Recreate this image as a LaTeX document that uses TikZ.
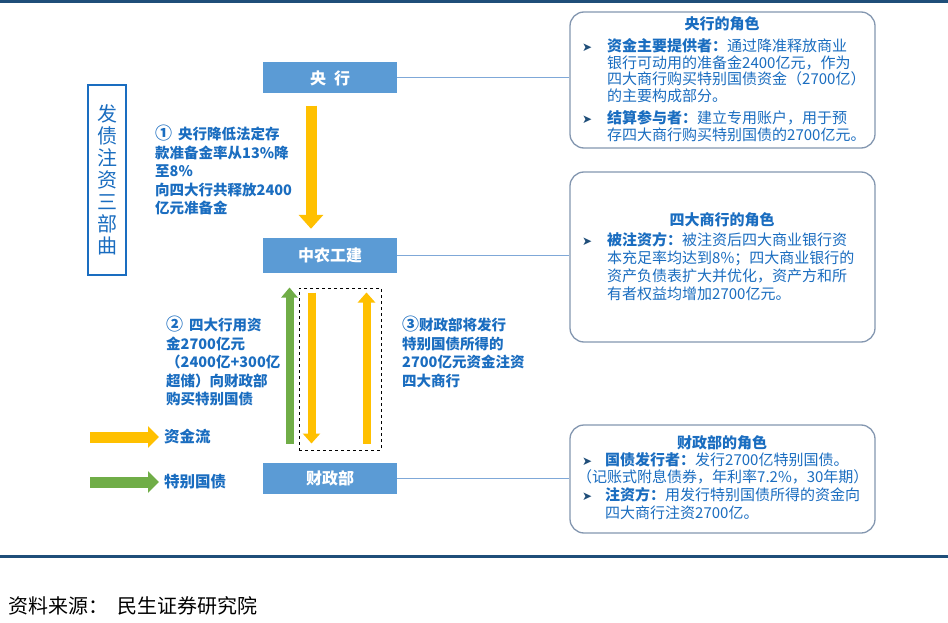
\documentclass[tikz,border=0pt]{standalone}
\usepackage{fontspec}
\setmainfont{Noto Sans CJK SC}
\newfontfamily\symfont{DejaVu Sans}
\usepackage{tikz}
\usetikzlibrary{positioning,arrows.meta,calc}
\definecolor{ruleblue}{HTML}{1F4E79}
\definecolor{boxblue}{HTML}{5B9BD5}
\definecolor{txtblue}{HTML}{1A6DC0}
\definecolor{rolegray}{HTML}{8497B0}
\definecolor{linkblue}{HTML}{7FA8D8}
\definecolor{gold}{HTML}{FFC000}
\definecolor{leaf}{HTML}{70AD47}
\newcommand{\bul}[1][25pt]{\makebox[#1][l]{\symfont\fontsize{12}{12}\selectfont\color{ruleblue}➤}}
\newcommand{\ind}[1][25pt]{\hspace*{#1}}

\begin{document}
\begin{tikzpicture}[
    x=1pt, y=-1pt,
    bank/.style={fill=boxblue, minimum width=134pt, minimum height=31pt, inner sep=0pt, text=white, font=\fontsize{16}{16}\selectfont\bfseries},
    role/.style={draw=rolegray, line width=1.3pt, rounded corners=14pt, minimum width=305pt, inner sep=0pt},
    note/.style={text=txtblue, align=left, inner sep=0pt, anchor=north west, font=\fontsize{14.5}{18.5}\selectfont\bfseries},
    body/.style={text=txtblue, align=left, inner sep=0pt, anchor=north west, font=\fontsize{15}{16.8}\selectfont},
    heading/.style={text=txtblue, inner sep=0pt, font=\fontsize{15}{15}\selectfont\bfseries},
    link/.style={draw=linkblue, line width=1pt},
    flow/.style={draw=gold, line width=8pt, -{Triangle[width=17pt,length=10pt]}},
    bond/.style={draw=leaf, line width=8pt, -{Triangle[width=16pt,length=10pt]}}
  ]
    \fill[white] (0,0) rectangle (948,623);
    \useasboundingbox (0,0) rectangle (948,623);
    \draw[ruleblue, line width=3pt] (0,2) -- (948,2);
    \draw[ruleblue, line width=3pt] (0,556) -- (948,556);

    \node[draw=txtblue, line width=1.3pt, minimum width=38pt, minimum height=190pt, align=center, text=txtblue, font=\fontsize{20}{22}\selectfont] (stage) at (107,180) {发\\债\\注\\资\\三\\部\\曲};

    \node[bank] (pboc) at (330,78) {央\hspace{8pt}行};
    \node[bank, minimum height=35pt] (big4) at (330,255.5) {中农工建};
    \node[bank] (mof) at (330,478) {财政部};

    \node[role, minimum height=136pt] (rolea) at (722.5,80) {};
    \node[role, minimum height=170pt] (roleb) at (722.5,257) {};
    \node[role, minimum height=108pt] (rolec) at (722.5,479) {};

    \draw[link] (pboc.east) -- (pboc.east -| rolea.west);
    \draw[link] (big4.east) -- (big4.east -| roleb.west);
    \draw[link] (mof.east) -- (mof.east -| rolec.west);

    \draw[flow, line width=11pt, -{Triangle[width=24pt,length=14pt]}] ($(pboc.south)+(-19,12)$) -- ($(big4.north)+(-19,-9)$);

    \node[draw, dashed, line width=1pt, minimum width=82pt, minimum height=162pt] (swap) at (340,369) {};
    \draw[bond] ($(swap.south west)+(-9,-7)$) -- ($(swap.north west)+(-9,0)$);
    \draw[flow] ($(swap.north west)+(13,5)$) -- ($(swap.south west)+(13,-7)$);
    \draw[flow] ($(swap.south east)+(-15,-7)$) -- ($(swap.north east)+(-15,5)$);

    \node[note] (stepone) at (155,125) {{\fontsize{17}{17}\selectfont①}\hspace{6pt}央行降低法定存\\款准备金率从13\%降\\至8\%\\向四大行共释放2400\\亿元准备金};
    \node[note] (steptwo) at (166,316) {{\fontsize{17}{17}\selectfont②}\hspace{6pt}四大行用资\\金2700亿元\\（2400亿+300亿\\超储）向财政部\\购买特别国债};
    \node[note] (stepthree) at (402,316) {{\fontsize{17}{17}\selectfont③}财政部将发行\\特别国债所得的\\2700亿元资金注资\\四大商行};

    \node[note, anchor=west, font=\fontsize{15.5}{16}\selectfont\bfseries] (flowkey) at (164,437) {资金流};
    \node[note, anchor=west, font=\fontsize{15.5}{16}\selectfont\bfseries] (bondkey) at (164,482) {特别国债};
    \coordinate (flowtail) at (90,437);
    \coordinate (bondtail) at (90,482);
    \draw[flow, line width=11pt, -{Triangle[width=21pt,length=11pt]}] (flowtail) -- ($(flowkey.west)+(-5,0)$);
    \draw[bond, line width=11pt, -{Triangle[width=21pt,length=11pt]}] (bondtail) -- ($(bondkey.west)+(-5,0)$);

    \node[heading] (rolea title) at (722,24) {央行的角色};
    \node[body] (rolea text) at (582,38) {\bul\textbf{资金主要提供者：}通过降准释放商业\\
      \ind 银行可动用的准备金2400亿元，作为\\
      \ind 四大商行购买特别国债资金（2700亿）\\
      \ind 的主要构成部分。\\[5pt]
      \bul\textbf{结算参与者：}建立专用账户，用于预\\
      \ind 存四大商行购买特别国债的2700亿元。};

    \node[heading] (roleb title) at (722,220) {四大商行的角色};
    \node[body, font=\fontsize{15}{18}\selectfont] (roleb text) at (582,232) {\bul\textbf{被注资方：}被注资后四大商业银行资\\
      \ind 本充足率均达到8\%；四大商业银行的\\
      \ind 资产负债表扩大并优化，资产方和所\\
      \ind 有者权益均增加2700亿元。};

    \node[heading] (rolec title) at (722,443) {财政部的角色};
    \node[body, font=\fontsize{15}{17.7}\selectfont] (rolec text) at (582,452) {\bul[23pt]\textbf{国债发行者：}发行2700亿特别国债。\\
      \ind[-5pt]（记账式附息债券，年利率7.2\%，30年期）\\
      \bul[23pt]\textbf{注资方：}用发行特别国债所得的资金向\\
      \ind[23pt]四大商行注资2700亿。};

    \node[anchor=west, inner sep=0pt, font=\fontsize{20}{20}\selectfont] (source) at (8,606) {资料来源：\hspace{9pt}民生证券研究院};
  \end{tikzpicture}
\end{document}
